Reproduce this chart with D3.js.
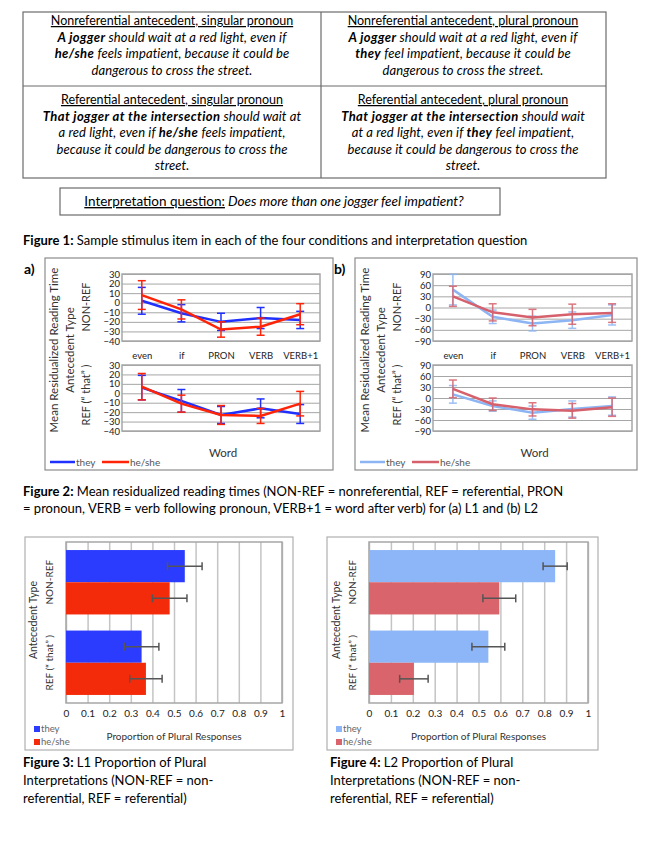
<!DOCTYPE html>
<meta charset="utf-8">
<script src="https://d3js.org/d3.v7.min.js"></script>
<style>
  body { margin: 0; background: #fff; }
  text { font-family: Lato, "Open Sans", sans-serif; }
</style>
<div id="page"></div>
<script>

// word positions (x categories of figure 2)
var words = ["even", "if", "PRON", "VERB", "VERB+1"];
var l1Ticks = [30, 20, 10, 0, -10, -20, -30, -40];
var l2Ticks = [90, 60, 30, 0, -30, -60, -90];

// figure 2a (L1) means and error half-widths
var l1NonRefThey = [2, -11, -20, -16, -18];
var l1NonRefTheyErr = [14, 9, 9, 11, 9];
var l1NonRefHeShe = [8, -7, -28, -25, -12];
var l1NonRefHeSheErr = [15, 10, 8, 9, 11];
var l1RefThey = [6, -8, -23, -16, -22];
var l1RefTheyErr = [13, 12, 9, 10, 10];
var l1RefHeShe = [7, -11, -23, -24, -11];
var l1RefHeSheErr = [14, 9, 10, 8, 13];

// figure 2b (L2)
var l2NonRefThey = [48, -25, -43, -34, -20];
var l2NonRefTheyErr = [41, 18, 20, 22, 27];
var l2NonRefHeShe = [30, -13, -27, -18, -15];
var l2NonRefHeSheErr = [27, 23, 22, 27, 25];
var l2RefThey = [10, -22, -40, -30, -22];
var l2RefTheyErr = [24, 14, 18, 22, 25];
var l2RefHeShe = [25, -17, -31, -35, -25];
var l2RefHeSheErr = [24, 17, 18, 20, 25];

// figures 3 and 4: proportion of plural responses
var antecedents = ["NON-REF", "REF"];
var pronouns = ["they", "he/she"];
var propTicks = [0, 0.1, 0.2, 0.3, 0.4, 0.5, 0.6, 0.7, 0.8, 0.9, 1];
var l1They = [0.55, 0.35];
var l1TheyErr = [0.08, 0.08];
var l1HeShe = [0.48, 0.37];
var l1HeSheErr = [0.08, 0.075];
var l2They = [0.85, 0.545];
var l2TheyErr = [0.055, 0.075];
var l2HeShe = [0.595, 0.205];
var l2HeSheErr = [0.075, 0.065];

var gridCol = "#a6a6a6";

var svg = d3.select("#page").append("svg")
    .attr("width", 660)
    .attr("height", 844);

svg.append("rect").attr("width", 660).attr("height", 844).attr("fill", "#fff");

// ---------- TABLE (figure 1) ----------
var tb = svg.append("g");
tb.append("rect").attr("x", 23).attr("y", 12).attr("width", 583).attr("height", 166)
    .attr("fill", "none").attr("stroke", "#6b6b6b").attr("stroke-width", 1.2);
tb.append("line").attr("x1", 23).attr("x2", 606).attr("y1", 86).attr("y2", 86)
    .attr("stroke", "#6b6b6b").attr("stroke-width", 1.2);
tb.append("line").attr("x1", 321).attr("x2", 321).attr("y1", 12).attr("y2", 178)
    .attr("stroke", "#6b6b6b").attr("stroke-width", 1.2);

// each line: list of [text, bold]
var cells = [
  {cx: 172, y: 25, head: "Nonreferential antecedent, singular pronoun", lines: [
    [["A jogger", 1], [" should wait at a red light, even if", 0]],
    [["he/she", 1], [" feels impatient, because it could be", 0]],
    [["dangerous to cross the street.", 0]]]},
  {cx: 463, y: 25, head: "Nonreferential antecedent, plural pronoun", lines: [
    [["A jogger", 1], [" should wait at a red light, even if", 0]],
    [["they", 1], [" feel impatient, because it could be", 0]],
    [["dangerous to cross the street.", 0]]]},
  {cx: 172, y: 104, head: "Referential antecedent, singular pronoun", lines: [
    [["That jogger at the intersection", 1], [" should wait at", 0]],
    [["a red light, even if ", 0], ["he/she", 1], [" feels impatient,", 0]],
    [["because it could be dangerous to cross the", 0]],
    [["street.", 0]]]},
  {cx: 463, y: 104, head: "Referential antecedent, plural pronoun", lines: [
    [["That jogger at the intersection", 1], [" should wait", 0]],
    [["at a red light, even if ", 0], ["they", 1], [" feel impatient,", 0]],
    [["because it could be dangerous to cross the", 0]],
    [["street.", 0]]]}
];

cells.forEach(function(c) {
  tb.append("text").attr("x", c.cx).attr("y", c.y)
    .attr("text-anchor", "middle").attr("font-size", "12.5px")
    .style("text-decoration", "underline")
    .text(c.head);
  c.lines.forEach(function(ln, i) {
    var t = tb.append("text").attr("x", c.cx).attr("y", c.y + 16.5 * (i + 1))
      .attr("text-anchor", "middle").attr("font-size", "13px")
      .attr("font-style", "italic");
    ln.forEach(function(p) {
      t.append("tspan").attr("font-weight", p[1] ? "bold" : "normal")
        .attr("letter-spacing", p[1] ? "0.4px" : "0.1px")
        .style("white-space", "pre").text(p[0]);
    });
  });
});

// interpretation question box
tb.append("rect").attr("x", 60).attr("y", 188).attr("width", 440).attr("height", 27)
    .attr("fill", "none").attr("stroke", "#6b6b6b").attr("stroke-width", 1.2);
var iq = tb.append("text").attr("x", 274).attr("y", 206).attr("text-anchor", "middle")
    .attr("font-size", "13.5px");
iq.append("tspan").style("text-decoration", "underline").text("Interpretation question:");
iq.append("tspan").attr("font-style", "italic").text(" Does more than one jogger feel impatient?");

// captions
function caption(x, y, bold, rest) {
  var t = svg.append("text").attr("x", x).attr("y", y).attr("font-size", "13px");
  t.append("tspan").attr("font-weight", "bold").text(bold);
  t.append("tspan").text(rest);
}
caption(23, 245, "Figure 1:", " Sample stimulus item in each of the four conditions and interpretation question");
caption(23, 496, "Figure 2:", " Mean residualized reading times (NON-REF = nonreferential, REF = referential, PRON");
svg.append("text").attr("x", 23).attr("y", 513).attr("font-size", "13px")
  .text("= pronoun, VERB = verb following pronoun, VERB+1 = word after verb) for (a) L1 and (b) L2");

// ---------- FIGURE 2 line panels ----------
function linePanel(opt) {
  var g = svg.append("g");
  var x = d3.scalePoint().domain(words).range([opt.left, opt.right]).padding(0.5);
  var y = d3.scaleLinear().domain(opt.domain).range([opt.bottom, opt.top]);

  // grid lines
  g.append("g")
    .attr("transform", "translate(" + opt.left + ",0)")
    .call(d3.axisLeft(y).tickValues(opt.ticks).tickSize(-(opt.right - opt.left)).tickFormat(""))
    .call(function(a) { a.select(".domain").remove(); })
    .selectAll("line").attr("stroke", gridCol).attr("stroke-width", 1);

  // tick labels
  g.append("g")
    .attr("transform", "translate(" + (opt.left - 2) + ",0)")
    .call(d3.axisLeft(y).tickValues(opt.ticks).tickSize(0).tickPadding(0))
    .call(function(a) { a.select(".domain").remove(); })
    .selectAll("text").attr("font-family", "Lato, sans-serif").attr("font-size", "9.5px").attr("fill", "#222");

  g.append("rect").attr("x", opt.left).attr("y", opt.top)
    .attr("width", opt.right - opt.left).attr("height", opt.bottom - opt.top)
    .attr("fill", "none").attr("stroke", gridCol).attr("stroke-width", 1.5);

  if (opt.cats) {
    g.append("g")
      .attr("transform", "translate(0," + opt.bottom + ")")
      .call(d3.axisBottom(x).tickSize(0).tickPadding(11))
      .call(function(a) { a.select(".domain").remove(); })
      .selectAll("text").attr("font-family", "Lato, sans-serif").attr("font-size", "9.5px").attr("fill", "#222");
  }

  opt.series.forEach(function(s) {
    var sg = g.append("g").attr("opacity", s.opacity || 1);
    s.vals.forEach(function(v, i) {
      var cx = x(words[i]);
      var e = s.errs[i];
      sg.append("line").attr("x1", cx).attr("x2", cx)
        .attr("y1", y(v - e)).attr("y2", y(v + e))
        .attr("stroke", s.color).attr("stroke-width", 1.5);
      [v - e, v + e].forEach(function(w) {
        sg.append("line").attr("x1", cx - 4).attr("x2", cx + 4)
          .attr("y1", y(w)).attr("y2", y(w))
          .attr("stroke", s.color).attr("stroke-width", 1.5);
      });
    });
    g.append("path")
      .datum(s.vals)
      .attr("fill", "none")
      .attr("stroke", s.color)
      .attr("stroke-width", 2.5)
      .attr("d", d3.line().x(function(d, i) { return x(words[i]); }).y(function(d) { return y(d); }));
  });
}

function rotText(x, y, txt, size) {
  svg.append("text")
    .attr("transform", "translate(" + x + "," + y + ") rotate(-90)")
    .attr("text-anchor", "middle")
    .attr("font-size", size)
    .attr("fill", "#333")
    .text(txt);
}

function lineFigure(o) {
  svg.append("rect").attr("x", o.boxX).attr("y", 258).attr("width", o.boxW).attr("height", 212)
    .attr("fill", "none").attr("stroke", "#8c8c8c").attr("stroke-width", 1.2);
  svg.append("text").attr("x", o.boxX - 21).attr("y", 274).attr("font-size", "14px")
    .attr("font-weight", "bold").text(o.tag);

  linePanel({left: o.left, right: o.right, top: 274, bottom: 341, domain: o.domain, ticks: o.ticks,
    cats: true, series: [
      {vals: o.nonThey, errs: o.nonTheyErr, color: o.c1, opacity: o.eOp},
      {vals: o.nonHe, errs: o.nonHeErr, color: o.c2, opacity: o.eOp}]});
  linePanel({left: o.left, right: o.right, top: 365, bottom: 431, domain: o.domain, ticks: o.ticks,
    cats: false, series: [
      {vals: o.refThey, errs: o.refTheyErr, color: o.c1, opacity: o.eOp},
      {vals: o.refHe, errs: o.refHeErr, color: o.c2, opacity: o.eOp}]});

  rotText(o.left - 64, 350, "Mean Residualized Reading Time", "11.5px");
  rotText(o.left - 48, 350, "Antecedent Type", "11.5px");
  rotText(o.left - 32, 307, "NON-REF", "11px");
  rotText(o.left - 32, 395, "REF (\u201C  that\u201D  )", "11px");

  svg.append("text").attr("x", (o.left + o.right) / 2 + 2).attr("y", 457)
    .attr("text-anchor", "middle").attr("font-size", "11.5px").attr("fill", "#333").text("Word");

  // legend
  var lx = o.boxX + 5;
  svg.append("line").attr("x1", lx).attr("x2", lx + 25).attr("y1", 462).attr("y2", 462)
    .attr("stroke", o.c1).attr("stroke-width", 2.5);
  svg.append("text").attr("x", lx + 26).attr("y", 466).attr("font-size", "10px").attr("fill", "#555").text("they");
  svg.append("line").attr("x1", lx + 52).attr("x2", lx + 79).attr("y1", 462).attr("y2", 462)
    .attr("stroke", o.c2).attr("stroke-width", 2.5);
  svg.append("text").attr("x", lx + 80).attr("y", 466).attr("font-size", "10px").attr("fill", "#555").text("he/she");
}

lineFigure({tag: "a)", boxX: 45, boxW: 288, left: 122, right: 320, domain: [-40, 30], ticks: l1Ticks,
  c1: "#1f30ff", c2: "#ff2408", eOp: 1,
  nonThey: l1NonRefThey, nonTheyErr: l1NonRefTheyErr, nonHe: l1NonRefHeShe, nonHeErr: l1NonRefHeSheErr,
  refThey: l1RefThey, refTheyErr: l1RefTheyErr, refHe: l1RefHeShe, refHeErr: l1RefHeSheErr});

lineFigure({tag: "b)", boxX: 355, boxW: 282, left: 433, right: 632, domain: [-90, 90], ticks: l2Ticks,
  c1: "#8db5f3", c2: "#d6606b", eOp: 0.85,
  nonThey: l2NonRefThey, nonTheyErr: l2NonRefTheyErr, nonHe: l2NonRefHeShe, nonHeErr: l2NonRefHeSheErr,
  refThey: l2RefThey, refTheyErr: l2RefTheyErr, refHe: l2RefHeShe, refHeErr: l2RefHeSheErr});

// ---------- FIGURES 3 & 4 bar charts ----------
function barFigure(o) {
  var g = svg.append("g");
  g.append("rect").attr("x", o.boxX).attr("y", 537).attr("width", o.boxW).attr("height", 213)
    .attr("fill", "none").attr("stroke", "#b0b0b0").attr("stroke-width", 1.2);

  var x = d3.scaleLinear().domain([0, 1]).range([o.left, o.right]);
  var yG = d3.scaleBand().domain(antecedents).range([542, 703]).paddingInner(0.2).paddingOuter(0.1);
  var yS = d3.scaleBand().domain(pronouns).range([0, yG.bandwidth()]);

  g.append("g")
    .attr("transform", "translate(0,703)")
    .call(d3.axisBottom(x).tickValues(propTicks).tickSize(-161).tickFormat(""))
    .call(function(a) { a.select(".domain").remove(); })
    .selectAll("line").attr("stroke", "#c4c4c4").attr("stroke-width", 1.5);

  g.append("rect").attr("x", o.left).attr("y", 542).attr("width", o.right - o.left).attr("height", 161)
    .attr("fill", "none").attr("stroke", "#a6a6a6").attr("stroke-width", 1.5);

  g.append("g")
    .attr("transform", "translate(0,703)")
    .call(d3.axisBottom(x).tickValues(propTicks).tickSize(0).tickPadding(7)
      .tickFormat(function(d) { return String(+d.toFixed(1)); }))
    .call(function(a) { a.select(".domain").remove(); })
    .selectAll("text").attr("font-family", "Lato, sans-serif").attr("font-size", "10px").attr("fill", "#222");

  var series = [
    {key: "they", vals: o.they, errs: o.theyErr, color: o.c1},
    {key: "he/she", vals: o.he, errs: o.heErr, color: o.c2}
  ];
  series.forEach(function(s) {
    antecedents.forEach(function(a, i) {
      var by = yG(a) + yS(s.key);
      g.append("rect").attr("x", x(0)).attr("y", by)
        .attr("width", x(s.vals[i]) - x(0)).attr("height", yS.bandwidth())
        .attr("fill", s.color);
    });
  });
  series.forEach(function(s) {
    antecedents.forEach(function(a, i) {
      var cy = yG(a) + yS(s.key) + yS.bandwidth() / 2;
      var lo = x(s.vals[i] - s.errs[i]), hi = x(s.vals[i] + s.errs[i]);
      g.append("line").attr("x1", lo).attr("x2", hi).attr("y1", cy).attr("y2", cy)
        .attr("stroke", "#555").attr("stroke-width", 1.5);
      [lo, hi].forEach(function(px) {
        g.append("line").attr("x1", px).attr("x2", px).attr("y1", cy - 4).attr("y2", cy + 4)
          .attr("stroke", "#555").attr("stroke-width", 1.5);
      });
    });
  });

  rotText(o.left - 29, 620, "Antecedent Type", "10.5px");
  rotText(o.left - 13, yG("NON-REF") + yG.bandwidth() / 2, "NON-REF", "10px");
  rotText(o.left - 13, yG("REF") + yG.bandwidth() / 2, "REF (\u201C  that\u201D  )", "10px");

  g.append("text").attr("x", (o.left + o.right) / 2).attr("y", 740)
    .attr("text-anchor", "middle").attr("font-size", "10px").attr("fill", "#333")
    .text("Proportion of Plural Responses");

  series.forEach(function(s, i) {
    g.append("rect").attr("x", o.boxX + 9).attr("y", 726 + i * 13).attr("width", 6).attr("height", 6)
      .attr("fill", s.color);
    g.append("text").attr("x", o.boxX + 16).attr("y", 732 + i * 13).attr("font-size", "9.5px")
      .attr("fill", "#666").text(s.key);
  });

  caption(o.capX, 767, o.capBold, o.capRest);
  svg.append("text").attr("x", o.capX).attr("y", 785).attr("font-size", "13px").text("Interpretations (NON-REF = non-");
  svg.append("text").attr("x", o.capX).attr("y", 803).attr("font-size", "13px").text("referential, REF = referential)");
}

barFigure({boxX: 25, boxW: 268, left: 66, right: 282, c1: "#2b3cff", c2: "#f42b0a",
  they: l1They, theyErr: l1TheyErr, he: l1HeShe, heErr: l1HeSheErr,
  capX: 23, capBold: "Figure 3:", capRest: " L1 Proportion of Plural"});

barFigure({boxX: 327, boxW: 271, left: 369, right: 588, c1: "#8cb6f7", c2: "#d9646b",
  they: l2They, theyErr: l2TheyErr, he: l2HeShe, heErr: l2HeSheErr,
  capX: 330, capBold: "Figure 4:", capRest: " L2 Proportion of Plural"});

</script>
